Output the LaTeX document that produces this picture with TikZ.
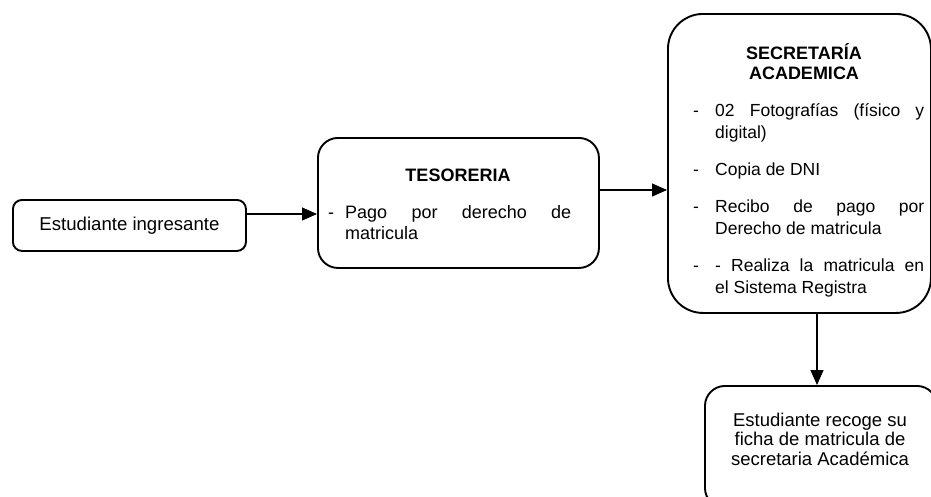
\documentclass[tikz,border=0pt]{standalone}
\usepackage{fontspec}
\setmainfont{Liberation Sans}
\usetikzlibrary{arrows.meta}
\begin{document}
\begin{tikzpicture}[x=1pt,y=-1pt,
  box/.style={draw, line width=1.9pt, inner sep=0pt, anchor=north west},
  arr/.style={line width=1.2pt, -{Triangle[length=15pt,width=13pt]}},
  big/.style={font=\fontsize{18}{21}\selectfont},
  mid/.style={font=\fontsize{17.5}{22}\selectfont},
  ttl/.style={inner sep=0pt, anchor=base, align=center, font=\fontsize{18}{20}\selectfont\bfseries},
  txt/.style={inner sep=0pt, anchor=base west}]
\useasboundingbox (0,0) rectangle (931,496);

% boxes
\node[box, font=\fontsize{18.6}{21}\selectfont, rounded corners=9pt, minimum width=233pt, minimum height=51pt] (est) at (12,199) {Estudiante ingresante};
\node[box, rounded corners=20pt, minimum width=281pt, minimum height=130pt] (tes) at (317,137) {};
\node[box, rounded corners=35pt, minimum width=263pt, minimum height=299pt] (sec) at (667,13) {};
\node[box, rounded corners=20pt, minimum width=232pt, minimum height=122pt] (rec) at (704,385) {};

% TESORERIA text
\node[ttl] (testit) at (458,181.5) {TESORERIA};
\node[txt, big] (tesb) at (328,218) {\begin{tabular}[t]{@{}p{17pt}@{}l@{}}
-&\makebox[226pt][s]{Pago por derecho de}\\
 &matricula
\end{tabular}};

% SECRETARIA text (base anchor = last line)
\node[ttl] (sectit) at (804,79.5) {SECRETARÍA\\ACADEMICA};
\node[txt, mid] (secb) at (693,116) {\begin{tabular}[t]{@{}p{22pt}@{}l@{}}
-&\makebox[209pt][s]{02 Fotografías (físico y}\\
 &digital)\\[15.5pt]
-&Copia de DNI\\[15pt]
-&\makebox[209pt][s]{Recibo de pago por}\\
 &Derecho de matricula\\[15pt]
-&\makebox[209pt][s]{- Realiza la matricula en}\\
 &el Sistema Registra
\end{tabular}};

% final box text (base anchor = last line)
\node[inner sep=0pt, anchor=base, align=center, font=\fontsize{18.5}{19.5}\selectfont] (recb) at (820,465) {Estudiante recoge su\\ficha de matricula de\\secretaria Académica};

% connectors
\draw[arr] (est.east |- 0,214) -- (tes.west |- 0,214);
\draw[arr] (tes.east |- 0,190) -- (sec.west |- 0,190);
\draw[arr] (sec.south -| 817,0) -- (rec.north -| 817,0);
\end{tikzpicture}
\end{document}
